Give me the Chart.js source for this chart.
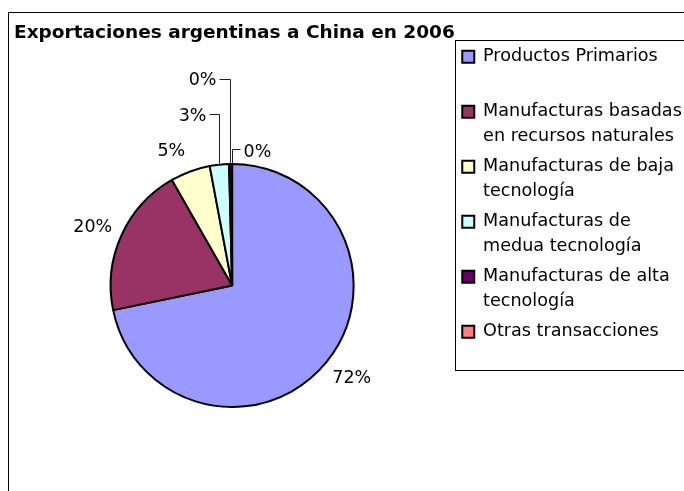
<!DOCTYPE html>
<html>
<head>
<meta charset="utf-8">
<script src="https://cdn.jsdelivr.net/npm/chart.js@4/dist/chart.umd.min.js"></script>
<style>
    body { margin: 0; background: #fff; }
    #wrap { position: relative; width: 684px; height: 491px; overflow: hidden; }
    #sheet { position: absolute; left: 0; top: 0; width: 700px; height: 528px; }
</style>
</head>
<body>
<div id="wrap"><div id="sheet"><canvas id="pie-chart"></canvas></div></div>
<script>
const chartTitle = 'Exportaciones argentinas a China en 2006';
const categories = [
    ['Productos Primarios', ''],
    ['Manufacturas basadas', 'en recursos naturales'],
    ['Manufacturas de baja', 'tecnología'],
    ['Manufacturas de', 'medua tecnología'],
    ['Manufacturas de alta', 'tecnología'],
    ['Otras transacciones', '']
];
const shares = [71.75, 20.0, 5.3, 2.55, 0.35, 0.05];
const sliceColors = ['#9999FF', '#993366', '#FFFFCC', '#CCFFFF', '#660066', '#FF8080'];

const fontFamily = '"DejaVu Sans", sans-serif';

// frame, title and legend border (Excel style); the sheet is cropped by the page like the original
const excelFrame = {
    id: 'excelFrame',
    afterDraw(chart) {
        const ctx = chart.ctx;
        const legend = chart.legend;
        ctx.save();
        ctx.strokeStyle = '#000';
        ctx.lineWidth = 1;
        ctx.strokeRect(8.5, 12.5, 800, 600);
        ctx.strokeRect(Math.round(legend.left) - 1.5, Math.round(legend.top) - 2.5, 400, 330);
        ctx.fillStyle = '#000';
        ctx.font = 'bold 18.5px ' + fontFamily;
        ctx.textBaseline = 'alphabetic';
        ctx.textAlign = 'left';
        ctx.fillText(chartTitle, 14, 38);
        ctx.restore();
    }
};

// percentage labels around the pie, with leader lines for the small slices
const percentLabels = {
    id: 'percentLabels',
    afterDatasetsDraw(chart, args, opts) {
        const ctx = chart.ctx;
        const meta = chart.getDatasetMeta(0);
        const values = chart.data.datasets[0].data;
        const total = values.reduce((a, b) => a + b, 0);
        ctx.save();
        ctx.font = '17.5px ' + fontFamily;
        ctx.fillStyle = '#000';
        ctx.strokeStyle = '#222';
        ctx.lineWidth = 1;
        ctx.textBaseline = 'middle';
        meta.data.forEach((arc, i) => {
            const p = arc.getProps(['x', 'y', 'startAngle', 'endAngle', 'outerRadius'], true);
            const mid = (p.startAngle + p.endAngle) / 2;
            const cos = Math.cos(mid);
            const sin = Math.sin(mid);
            const text = Math.round(values[i] / total * 100) + '%';
            const w = ctx.measureText(text).width;
            const h = 16;
            const leader = opts.leaders[i];
            if (leader) {
                const ex = Math.round(p.x + cos * (p.outerRadius + 1)) + 0.5;
                const ey = p.y + sin * (p.outerRadius + 1);
                const ky = Math.round(ey - leader.rise) + 0.5;
                const kx = ex + leader.run;
                ctx.beginPath();
                ctx.moveTo(ex, ey);
                ctx.lineTo(ex, ky);
                ctx.lineTo(kx, ky);
                ctx.stroke();
                ctx.textAlign = leader.run < 0 ? 'right' : 'left';
                ctx.fillText(text, kx + (leader.run < 0 ? -3 : 3), ky + leader.dy);
            } else {
                const r = p.outerRadius + opts.gap;
                const nudge = opts.nudges[i] || [0, 0];
                ctx.textAlign = 'center';
                ctx.fillText(text,
                    p.x + cos * r + cos * w / 2 + nudge[0],
                    p.y + sin * r + sin * h / 2 + nudge[1]);
            }
        });
        ctx.restore();
    }
};

document.addEventListener('DOMContentLoaded', function () {
    const pieChart = document.getElementById('pie-chart');

    new Chart(pieChart, {
        type: 'pie',
        data: {
            labels: categories,
            datasets: [{
                data: shares,
                backgroundColor: sliceColors,
                borderColor: '#000',
                borderWidth: 2,
                radius: 121.5
            }]
        },
        options: {
            responsive: true,
            maintainAspectRatio: false,
            animation: false,
            events: [],
            layout: {
                padding: { left: 7, top: 43, right: 16, bottom: 0 }
            },
            plugins: {
                title: { display: false },
                tooltip: { enabled: false },
                legend: {
                    position: 'right',
                    align: 'start',
                    labels: {
                        color: '#000',
                        boxWidth: 12,
                        boxHeight: 12,
                        padding: 5,
                        font: { family: fontFamily, size: 17.6, lineHeight: 1.42 }
                    }
                },
                percentLabels: {
                    gap: 12,
                    nudges: [[1, 4], null, [-10, -1]],
                    leaders: [null, null, null,
                        { rise: 50, run: -10, dy: 1.5 },
                        { rise: 84, run: -11, dy: 1 },
                        { rise: 14, run: 8, dy: 3 }]
                }
            }
        },
        plugins: [percentLabels, excelFrame]
    });
});
</script>
</body>
</html>
